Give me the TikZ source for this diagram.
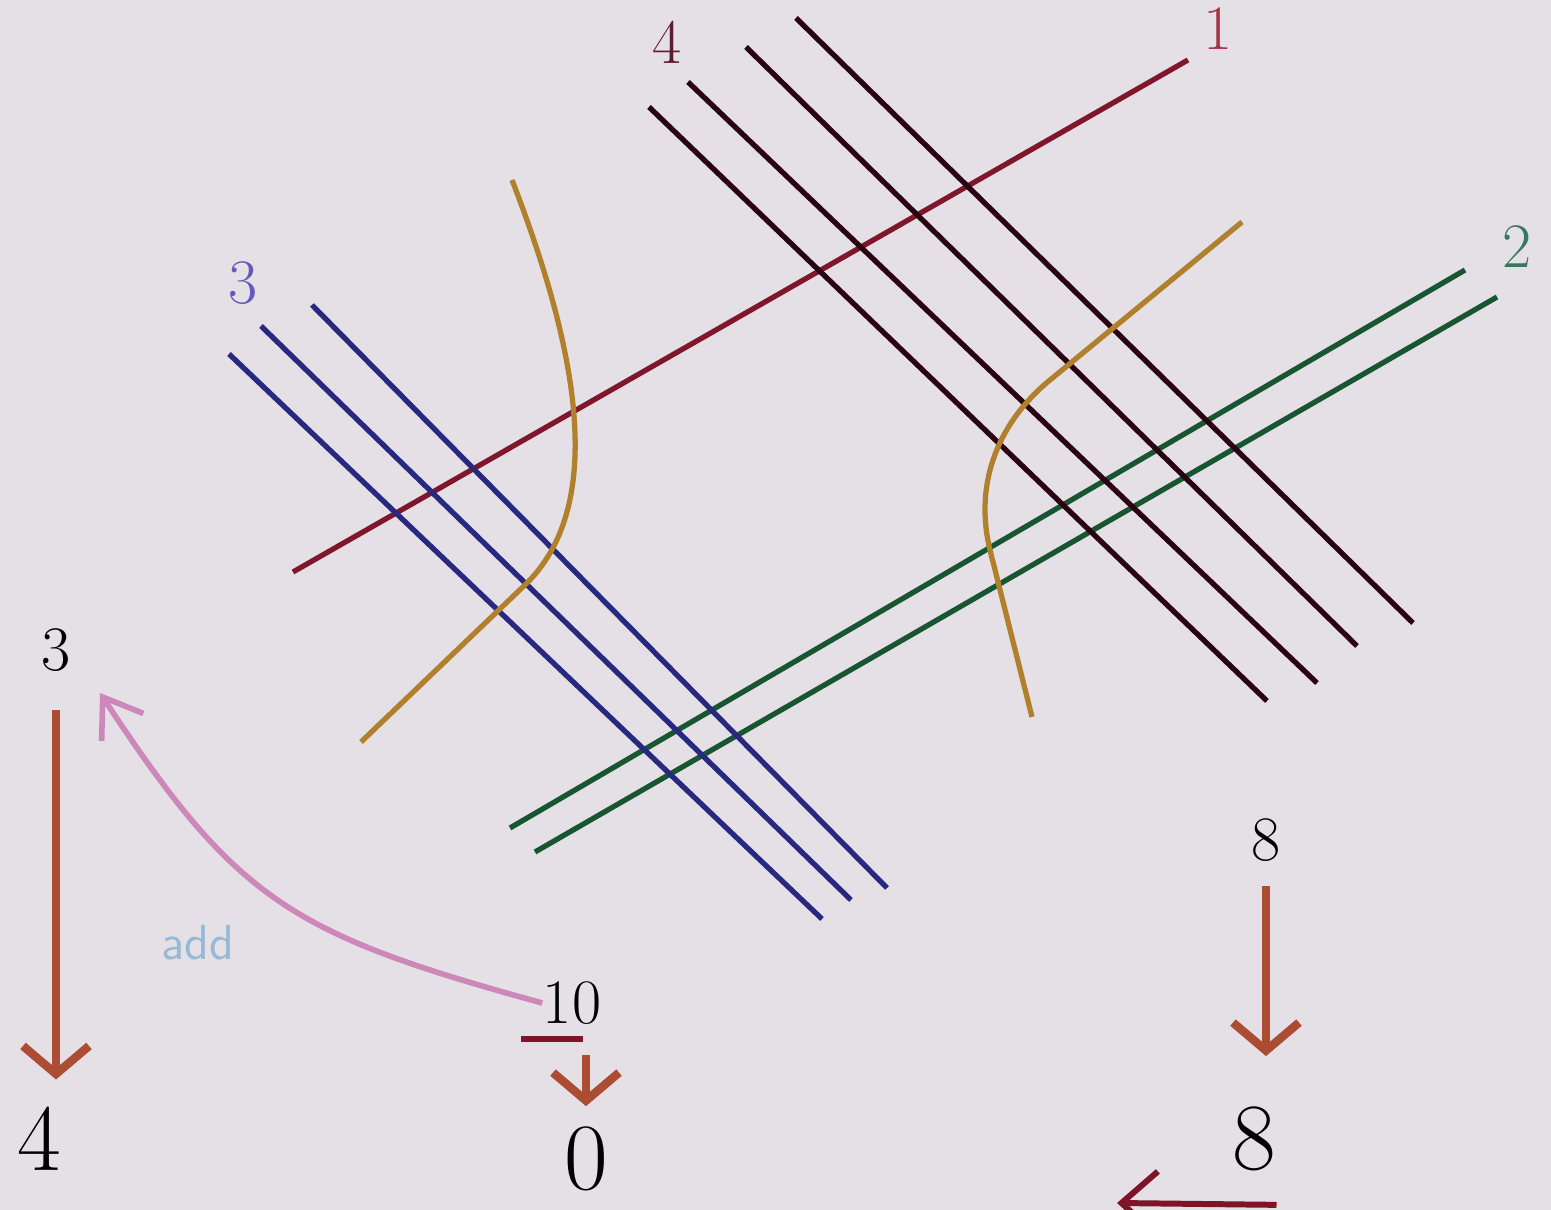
\documentclass[tikz,border=0pt]{standalone}
\usepackage{fontspec}
\usepackage{tikz}
\usetikzlibrary{arrows.meta,positioning}

\definecolor{paper}{RGB}{228,224,230}
\definecolor{linered}{RGB}{128,22,44}
\definecolor{linedark}{RGB}{42,2,18}
\definecolor{lineblue}{RGB}{40,40,128}
\definecolor{linegreen}{RGB}{24,86,50}
\definecolor{curvegold}{RGB}{176,128,44}
\definecolor{tagred}{RGB}{165,50,70}
\definecolor{tagdark}{RGB}{95,30,45}
\definecolor{tagblue}{RGB}{100,90,185}
\definecolor{taggreen}{RGB}{55,120,95}
\definecolor{arrowbrown}{RGB}{172,76,50}
\definecolor{arrowpink}{RGB}{205,135,185}
\definecolor{addblue}{RGB}{150,185,215}
\definecolor{carryred}{RGB}{125,20,40}

\begin{document}
\begin{tikzpicture}[
    x=0.01cm, y=-0.01cm,
    tag_digit/.style={inner sep=0pt, font=\fontsize{18}{20}\selectfont},
    big_digit/.style={inner sep=0pt, font=\fontsize{27}{30}\selectfont},
    stick/.style={line width=1.5pt},
    down_arrow/.style={draw=arrowbrown, line width=2.4pt, -{Straight Barb[length=2.8mm, width=6.6mm]}},
    add_arrow/.style={draw=arrowpink, line width=1.6pt, -{Straight Barb[length=3.6mm, width=5mm]}},
    carry_arrow/.style={draw=carryred, line width=1.7pt, -{Straight Barb[length=3.6mm, width=6.4mm]}}
]

% Paper
\fill[paper] (0,0) rectangle (1551,1210);
\clip (0,0) rectangle (1551,1210);

% Digit 1
\draw[stick, linered] (293,572) -- (1188,60);
\node[tag_digit, text=tagred] (tag_one) at (1218,29) {1};

% Digit 2
\draw[stick, linegreen] (510,828) -- (1465,270);
\draw[stick, linegreen] (535,852) -- (1497,297);
\node[tag_digit, text=taggreen] (tag_two) at (1517,247) {2};

% Digit 3
\draw[stick, lineblue] (229,354) -- (822,919);
\draw[stick, lineblue] (261,326) -- (851,900);
\draw[stick, lineblue] (312,305) -- (887,888);
\node[tag_digit, text=tagblue] (tag_three) at (243,283) {3};

% Digit 4
\draw[stick, linedark] (649,107) -- (1267,701);
\draw[stick, linedark] (688,82) -- (1317,683);
\draw[stick, linedark] (746,47) -- (1357,646);
\draw[stick, linedark] (796,18) -- (1413,623);
\node[tag_digit, text=tagdark] (tag_four) at (667,42) {4};

% Grouping curves
\draw[stick, curvegold] (512,180) .. controls (570,330) and (612,498) .. (527,583) -- (361,742);
\draw[stick, curvegold] (1242,222) -- (1050,380) .. controls (1001,420) and (973,480) .. (990,550) -- (1032,717);

% Left column
\node[tag_digit] (s3) at (56,650) {3};
\node[big_digit] (b4) at (39,1139) {4};
\draw[down_arrow, shorten <=0.38cm, shorten >=0.27cm] (s3) -- (s3 |- b4.north);

% Middle column
\node[tag_digit] (ten) at (572,1003) {10};
\draw[carryred, line width=1.8pt] ([xshift=-0.21cm, yshift=-0.14cm]ten.south west) -- ++(62,0);
\node[big_digit] (zero) at (586,1159) {0};
\draw[down_arrow, shorten <=0.3cm, shorten >=0.2cm] (zero |- ten.south) -- (zero);
\draw[add_arrow, shorten >=0.25cm] (ten.west) .. controls (291,934) and (237,901) .. ([xshift=0.15cm]s3.south east);
\node[inner sep=0pt, font=\sffamily\fontsize{14}{16}\selectfont, text=addblue] (add_tag) at (198,943) {add};

% Right column
\node[tag_digit] (s8) at (1266,840) {8};
\node[big_digit] (b8) at (1254,1139) {8};
\draw[down_arrow, shorten <=0.24cm, shorten >=0.5cm] (s8) -- (s8 |- b8.north);
\coordinate (carry_end) at (1117,1203);
\draw[carry_arrow] ([yshift=-0.33cm]b8.south east) -- (carry_end);

\end{tikzpicture}
\end{document}
